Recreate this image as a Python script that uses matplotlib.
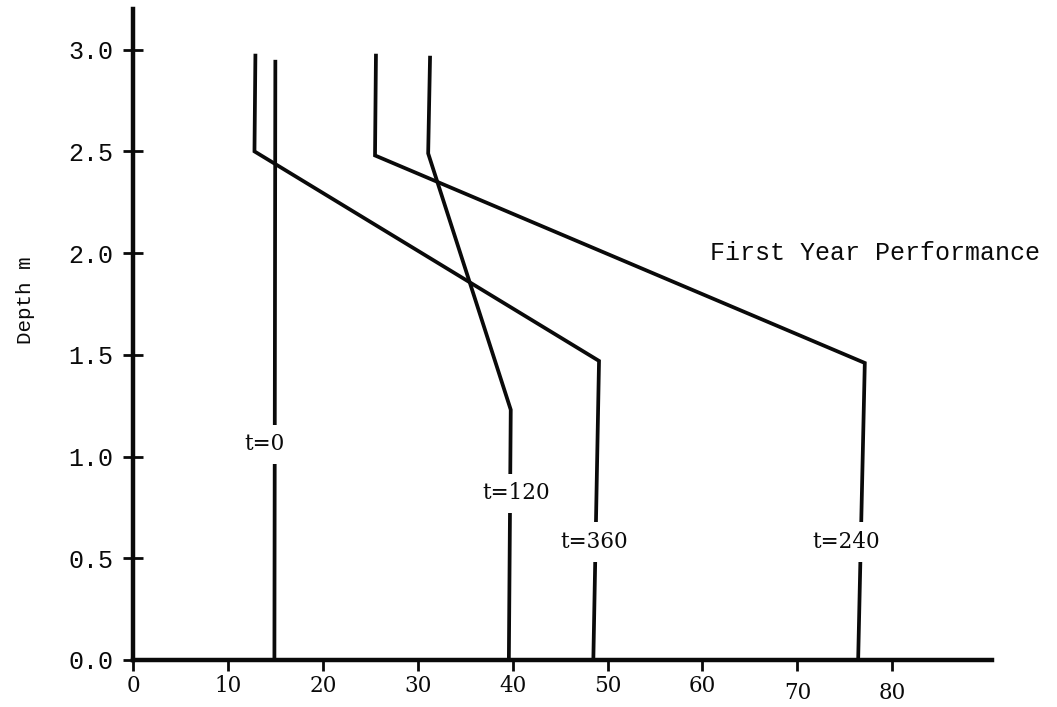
import matplotlib
matplotlib.use("Agg")
import matplotlib.pyplot as plt
from matplotlib.transforms import ScaledTranslation

# temperature profiles (x = temperature-ish value, depth in m)
t0_x = [15.0, 14.9]
t0_depth = [2.95, 0.0]
t120_x = [31.3, 31.1, 39.8, 39.6]
t120_depth = [2.97, 2.49, 1.23, 0.0]
t240_x = [25.6, 25.5, 77.1, 76.4]
t240_depth = [2.98, 2.48, 1.46, 0.0]
t360_x = [12.9, 12.8, 49.1, 48.5]
t360_depth = [2.98, 2.50, 1.47, 0.0]

curve_labels = ["t=0", "t=120", "t=240", "t=360"]
label_x = [13.9, 40.4, 75.1, 48.6]
label_depth = [1.06, 0.82, 0.58, 0.58]

xticks = [0, 10, 20, 30, 40, 50, 60, 70, 80]
yticks = [0.0, 0.5, 1.0, 1.5, 2.0, 2.5, 3.0]

INK = "#0a0a0a"
MONO = "Liberation Mono"
SERIF = "DejaVu Serif"

fig = plt.figure(figsize=(10.57, 7.07), dpi=100)
ax = fig.add_axes([0.1258, 0.0665, 0.8127, 0.9208])

for xs, ds in [(t0_x, t0_depth), (t120_x, t120_depth),
               (t240_x, t240_depth), (t360_x, t360_depth)]:
    ax.plot(xs, ds, color=INK, lw=2.7, solid_joinstyle="miter",
            solid_capstyle="butt", zorder=2)

for lab, x, d in zip(curve_labels, label_x, label_depth):
    ax.text(x, d, lab, family=SERIF, fontsize=15.5, color=INK,
            ha="center", va="center", zorder=3,
            bbox=dict(boxstyle="square,pad=0.4", fc="white", ec="none"))

ax.text(60.8, 2.0, "First Year Performance", family=MONO, fontsize=18,
        color=INK, ha="left", va="center")

ax.set_xlim(0, 90.5)
ax.set_ylim(0, 3.2)

for side in ["top", "right"]:
    ax.spines[side].set_visible(False)
for side in ["left", "bottom"]:
    ax.spines[side].set_linewidth(3.2)
    ax.spines[side].set_color(INK)

ax.set_xticks(xticks)
ax.set_xticklabels([str(v) for v in xticks], family=SERIF, fontsize=15.5)
ax.set_yticks(yticks)
ax.set_yticklabels([f"{v:.1f}" for v in yticks], family=MONO, fontsize=18)
ax.tick_params(axis="x", direction="out", length=8, width=2, pad=3,
               colors=INK)
ax.tick_params(axis="y", direction="inout", length=14, width=2, pad=7,
               colors=INK)

# the last two x labels were typed a little lower on the original
for lab in ax.get_xticklabels()[-2:]:
    lab.set_transform(lab.get_transform()
                      + ScaledTranslation(0, -5 / 72, fig.dpi_scale_trans))

ax.set_ylabel("Depth m", family=MONO, fontsize=15, color=INK)
ax.yaxis.set_label_coords(-0.114, 0.553)

fig.savefig("out.png", dpi=100)
